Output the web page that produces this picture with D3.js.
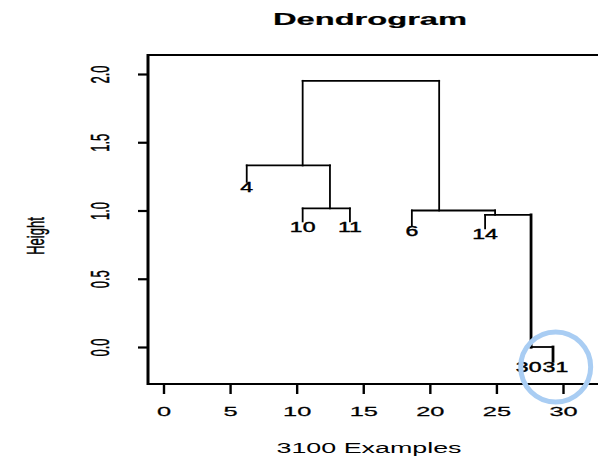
<!DOCTYPE html>
<html><head><meta charset="utf-8">
<script src="https://cdn.jsdelivr.net/npm/d3@7"></script>
<style>body{margin:0;background:#fff}svg{display:block}text{font-family:"Liberation Sans",Arial,sans-serif;fill:#000;stroke:#000;stroke-width:0.25px}</style>
</head><body>
<svg id="c" width="598" height="458"></svg>
<script>
// ---- data ----
const title = "Dendrogram";
const xTitle = "3100 Examples";
const yTitle = "Height";
const xTicks = [0, 5, 10, 15, 20, 25, 30];
const yTicks = [0.0, 0.5, 1.0, 1.5, 2.0];
const leafLabels = ["4", "10", "11", "6", "14", "30", "31"];
const leafX = [6.25, 10.45, 14.0, 18.65, 24.15, 27.6, 29.25];
const leafEnd = [1.21, 0.92, 0.92, 0.89, 0.87, 0.0, -0.105];
const labelLevel = [1.21, 0.92, 0.92, 0.89, 0.87, -0.105, -0.105];
// merges: negative = leaf (1-based), positive = earlier merge (1-based)
const mergeLeft = [-6, -2, -5, -4, -1, 5];
const mergeRight = [-7, -3, 1, 3, 2, 4];
const mergeHeight = [0.0, 1.015, 0.968, 1.0, 1.33, 1.95];
const mergeX = [27.6, 12.5, 24.9, 20.7, 10.45, 15.5];

// ---- layout ----
const svg = d3.select("#c");
const x = d3.scaleLinear().domain([0, 30]).range([163.5, 563]);
const y = d3.scaleLinear().domain([0, 2]).range([347, 74]);
const frame = {l: 148, t: 55, r: 602, b: 384};

// frame
svg.append("rect").attr("x", frame.l).attr("y", frame.t)
  .attr("width", frame.r - frame.l).attr("height", frame.b - frame.t)
  .attr("fill", "none").attr("stroke", "#000").attr("stroke-width", 2);
svg.append("line").attr("x1", frame.l).attr("x2", frame.l).attr("y1", frame.t - 1).attr("y2", frame.b + 1)
  .attr("stroke", "#000").attr("stroke-width", 3);

// axes
const xAxis = d3.axisBottom(x).tickValues(xTicks).tickSize(10).tickPadding(0).tickFormat(d3.format("d"));
const gx = svg.append("g").attr("transform", `translate(0,${frame.b})`).call(xAxis);
gx.select(".domain").remove();
gx.selectAll(".tick line").attr("stroke", "#000").attr("stroke-width", 2.4);
gx.selectAll(".tick text").attr("font-size", 13).attr("y", 0)
  .attr("transform", "translate(0,32) scale(1.95,1)").attr("dy", 0);

const yAxis = d3.axisLeft(y).tickValues(yTicks).tickSize(10).tickFormat(d3.format(".1f"));
const gy = svg.append("g").attr("transform", `translate(${frame.l},0)`).call(yAxis);
gy.select(".domain").remove();
gy.selectAll(".tick line").attr("stroke", "#000").attr("stroke-width", 2.2);
gy.selectAll(".tick text").attr("x", 0).attr("dy", 0).attr("font-size", 13)
  .attr("text-anchor", "middle")
  .attr("transform", "translate(-48,0) scale(1.95,1) rotate(-90) translate(0,4.6)");

// titles
svg.append("text").attr("x", 370).attr("y", 25).attr("text-anchor", "middle")
  .attr("font-size", 16).attr("font-weight", "bold").style("stroke-width", "0.2px")
  .attr("textLength", 194).attr("lengthAdjust", "spacingAndGlyphs").text(title);
svg.append("text").attr("x", 369).attr("y", 453).attr("text-anchor", "middle").style("stroke-width", "0px")
  .attr("font-size", 14).attr("textLength", 185).attr("lengthAdjust", "spacingAndGlyphs").text(xTitle);
svg.append("text").attr("text-anchor", "middle").attr("font-size", 13)
  .attr("transform", "translate(35,236) scale(1.9,1) rotate(-90) translate(0,4.6)").text(yTitle);

// dendrogram segments
function nodeX(i) { return i < 0 ? leafX[-i - 1] : mergeX[i - 1]; }
function nodeH(i) { return i < 0 ? leafEnd[-i - 1] : mergeHeight[i - 1]; }
const segs = [];
mergeLeft.forEach((l, k) => {
  const r = mergeRight[k], h = mergeHeight[k];
  segs.push({x1: nodeX(l), y1: h, x2: nodeX(r), y2: h, w: 1.8});
  [l, r].forEach(c => {
    const lo = nodeH(c);
    segs.push({x1: nodeX(c), y1: h, x2: nodeX(c), y2: lo, w: lo <= 0.001 ? 2.8 : 1.8});
  });
});
svg.append("g").selectAll("line").data(segs).join("line")
  .attr("x1", d => x(d.x1)).attr("x2", d => x(d.x2))
  .attr("y1", d => y(d.y1)).attr("y2", d => y(d.y2))
  .attr("stroke", "#000").attr("stroke-width", d => d.w).attr("stroke-linecap", "square");

// leaf labels (with a small collision pass so neighbours at the same level do not overlap)
const sx = 1.65;
const lab = svg.append("g").selectAll("text").data(leafLabels).join("text")
  .attr("text-anchor", "middle").attr("font-size", 14).style("stroke-width", "0.4px").text(d => d);
const pos = leafLabels.map((d, i) => ({cx: x(leafX[i]), cy: y(labelLevel[i]) + 10.5, w: 0}));
lab.each(function (d, i) { pos[i].w = this.getComputedTextLength() * sx; });
for (let i = 1; i < pos.length; i++) {
  const a = pos[i - 1], b = pos[i];
  if (Math.abs(a.cy - b.cy) < 12) {
    const gap = (b.cx - b.w / 2) - (a.cx + a.w / 2) - 1;
    if (gap < 0) { a.cx += gap / 2; b.cx -= gap / 2; }
  }
}
lab.attr("transform", (d, i) => `translate(${pos[i].cx},${pos[i].cy}) scale(${sx},1)`);

// highlight circle annotation
svg.append("circle").attr("cx", x(29.45)).attr("cy", y(-0.147)).attr("r", 35)
  .attr("fill", "none").attr("stroke", "#a9cdf3").attr("stroke-width", 5);
</script>
</body></html>
